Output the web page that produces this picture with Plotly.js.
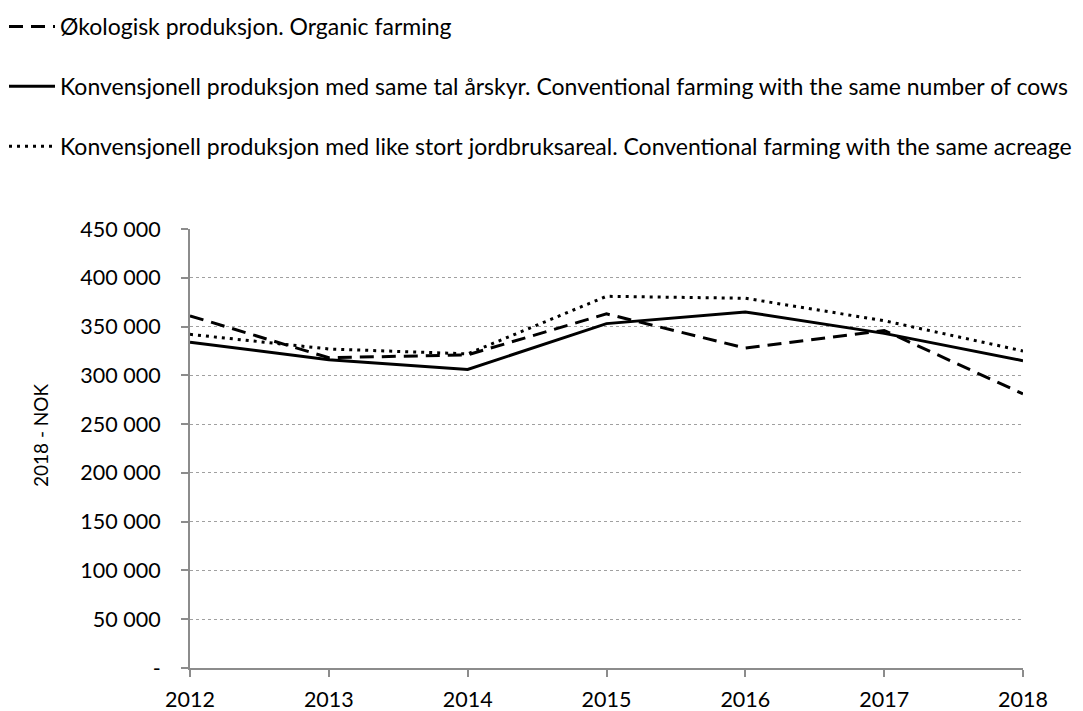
<!DOCTYPE html>
<html>
<head>
<meta charset="utf-8">
<script src="https://cdn.plot.ly/plotly-3.0.1.min.js"></script>
<style>html,body{margin:0;padding:0;background:#fff;}#chart{width:1083px;height:711px;}</style>
</head>
<body>
<div id="chart"></div>
<script>
const years = [2012, 2013, 2014, 2015, 2016, 2017, 2018];
const organic = [361000, 318000, 321000, 363000, 328000, 346000, 281000];
const sameCows = [334000, 316000, 306000, 353000, 365000, 343000, 315000];
const sameAcreage = [342000, 327000, 322000, 381000, 379000, 356000, 325000];
const seriesNames = [
  "Økologisk produksjon. Organic farming",
  "Konvensjonell produksjon med same tal årskyr. Conventional farming with the same number of cows",
  "Konvensjonell produksjon med like stort jordbruksareal. Conventional farming with the same acreage"
];
const yTickVals = [0, 50000, 100000, 150000, 200000, 250000, 300000, 350000, 400000, 450000];
const yTickText = ["-", "50 000", "100 000", "150 000", "200 000", "250 000", "300 000", "350 000", "400 000", "450 000"];
const yTitle = "2018 - NOK";

const FONT = "Lato, Carlito, Calibri, sans-serif";
const W = 1083, H = 711;
const M = {l: 190, r: 60, t: 229, b: 43};
const plotW = W - M.l - M.r, plotH = H - M.t - M.b;

const traces = [
  {x: years, y: organic, name: seriesNames[0], mode: "lines", legendgroup: "a",
   line: {color: "#000", width: 3, dash: "14px,8px"}},
  {x: years, y: sameCows, name: seriesNames[1], mode: "lines", legendgroup: "b",
   line: {color: "#000", width: 3}},
  {x: years, y: sameAcreage, name: seriesNames[2], mode: "lines", legendgroup: "c",
   line: {color: "#000", width: 3, dash: "3px,5px"}}
];
const layout = {
  width: W, height: H,
  paper_bgcolor: "#fff", plot_bgcolor: "#fff",
  font: {family: FONT, size: 23, color: "#000"},
  margin: {l: M.l, r: M.r, t: M.t, b: M.b, autoexpand: false},
  showlegend: true,
  legend: {x: 4 / W, y: 1 - 5 / H, xref: "container", yref: "container", xanchor: "left", yanchor: "top",
           orientation: "v", tracegroupgap: 27, itemwidth: 46, bgcolor: "rgba(0,0,0,0)",
           font: {family: FONT, size: 23, color: "#000"}, traceorder: "grouped"},
  xaxis: {range: [2012, 2018], tickvals: years, ticktext: years.map(String),
          showgrid: false, zeroline: false, showline: true, linecolor: "#8c8c8c", linewidth: 2,
          ticks: "outside", ticklen: 7, tickcolor: "#8c8c8c", tickwidth: 2, ticklabelstandoff: 4,
          tickfont: {family: FONT, size: 21.5, color: "#000"}},
  yaxis: {range: [0, 450000], tickvals: yTickVals, ticktext: yTickText,
          showgrid: true, gridcolor: "#a0a0a0", gridwidth: 1, griddash: "dot",
          zeroline: false, showline: true, linecolor: "#8c8c8c", linewidth: 2,
          ticks: "outside", ticklen: 7, tickcolor: "#8c8c8c", tickwidth: 2, ticklabelstandoff: 16,
          tickfont: {family: FONT, size: 21.5, color: "#000"}},
  annotations: [{text: yTitle, textangle: -90, showarrow: false,
                 xref: "paper", yref: "paper", x: (40 - M.l) / plotW, y: (H - M.b - 435) / plotH,
                 xanchor: "center", yanchor: "middle",
                 font: {family: FONT, size: 19, color: "#000"}}]
};
Plotly.newPlot("chart", traces, layout, {displayModeBar: false, staticPlot: true});
</script>
</body>
</html>
